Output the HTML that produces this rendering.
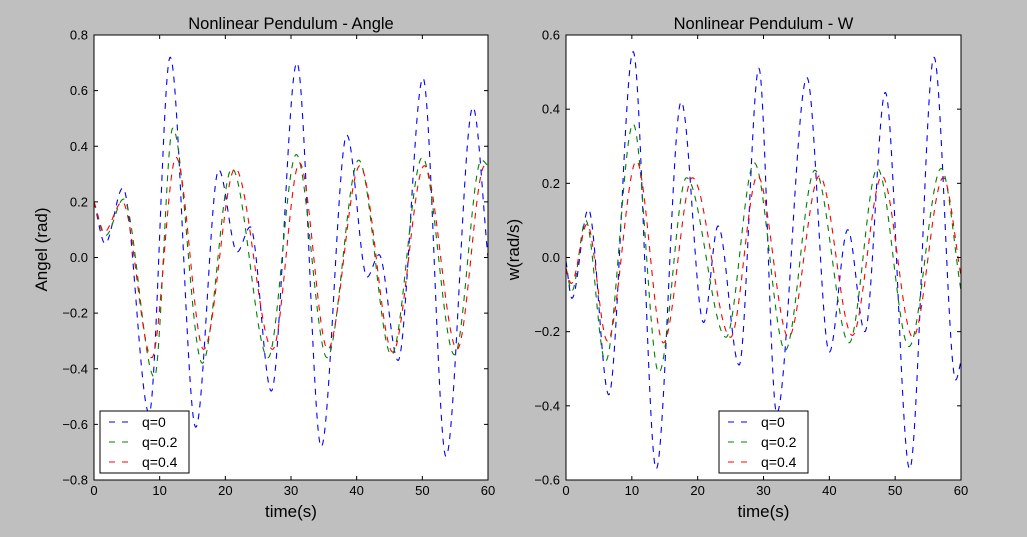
<!DOCTYPE html>
<html><head><meta charset="utf-8"><style>
html,body{margin:0;padding:0;background:#bfbfbf;}
svg{display:block;font-family:"Liberation Sans","DejaVu Sans",sans-serif;}
</style></head><body>
<svg id="chart" width="1027" height="537" viewBox="0 0 1027 537"></svg>
<script>
// ---- Data (extrema: time, value) ----
const angleQ0T=[0,1.7,4.4,8.4,11.6,15.5,19,21.8,23.8,27,30.9,34.6,38.5,41.6,43.4,46.3,50.1,53.6,57.7,60];
const angleQ0V=[0.2,0.05,0.25,-0.56,0.72,-0.61,0.315,0.02,0.11,-0.48,0.70,-0.68,0.44,-0.07,0.01,-0.37,0.645,-0.715,0.54,0.0];
const angleQ2T=[0,1.8,4.5,9.2,12,16.5,21,26.5,30.8,35.5,40.3,45.3,50,54.9,59,60];
const angleQ2V=[0.2,0.08,0.21,-0.43,0.465,-0.38,0.32,-0.36,0.37,-0.36,0.35,-0.35,0.36,-0.35,0.35,0.33];
const angleQ4T=[0,1.5,4.3,8.8,12.5,16.7,21.5,27.2,31.3,35.6,40.5,45.5,50.3,55.3,59.5,60];
const angleQ4V=[0.2,0.09,0.2,-0.36,0.36,-0.33,0.32,-0.33,0.34,-0.33,0.33,-0.34,0.33,-0.33,0.33,0.32];
const wQ0T=[0,0.9,3.4,6.5,10.2,13.7,17.5,20.9,23.1,26.3,29.3,32,36.6,40,42.8,45.4,48.5,52.2,55.9,59.2,60];
const wQ0V=[-0.01,-0.11,0.13,-0.37,0.555,-0.57,0.42,-0.175,0.085,-0.29,0.51,-0.42,0.485,-0.255,0.075,-0.2,0.445,-0.57,0.54,-0.33,-0.28];
const wQ2T=[0,0.9,3.0,6.0,10.2,14.1,18.3,24.3,28.6,33.3,37.8,43,47.3,52.1,57,60];
const wQ2V=[-0.03,-0.09,0.1,-0.28,0.36,-0.31,0.215,-0.215,0.255,-0.25,0.235,-0.23,0.24,-0.24,0.24,-0.09];
const wQ4T=[0,0.8,3.2,6.3,10.7,14.8,19.2,25,29.1,33.8,38.5,43.5,48,52.7,57.3,60];
const wQ4V=[-0.03,-0.07,0.09,-0.225,0.26,-0.23,0.215,-0.215,0.22,-0.215,0.22,-0.21,0.22,-0.215,0.215,-0.05];
const xTicks=[0,10,20,30,40,50,60];
const angleTicks=[-0.8,-0.6,-0.4,-0.2,0.0,0.2,0.4,0.6,0.8];
const wTicks=[-0.6,-0.4,-0.2,0.0,0.2,0.4,0.6];
const legendLabels=["q=0","q=0.2","q=0.4"];
const colors=["#0000ff","#008000","#ff0000"];

const NS="http://www.w3.org/2000/svg";
const svg=document.getElementById('chart');
function mk(tag,attrs,parent){const e=document.createElementNS(NS,tag);for(const k in attrs)e.setAttribute(k,attrs[k]);(parent||svg).appendChild(e);return e;}

function monotone(xs,ys){
  const n=xs.length,d=[],m=new Array(n);
  for(let i=0;i<n-1;i++)d.push((ys[i+1]-ys[i])/(xs[i+1]-xs[i]));
  m[0]=d[0];m[n-1]=d[n-2];
  for(let i=1;i<n-1;i++){m[i]=(d[i-1]*d[i]<=0)?0:(d[i-1]+d[i])/2;}
  for(let i=0;i<n-1;i++){if(d[i]===0){m[i]=0;m[i+1]=0;continue;}const a=m[i]/d[i],b=m[i+1]/d[i],s=a*a+b*b;if(s>9){const t=3/Math.sqrt(s);m[i]=t*a*d[i];m[i+1]=t*b*d[i];}}
  return function(x){let i=0;while(i<n-2&&x>xs[i+1])i++;const h=xs[i+1]-xs[i],t=(x-xs[i])/h,t2=t*t,t3=t2*t;
    return (2*t3-3*t2+1)*ys[i]+(t3-2*t2+t)*h*m[i]+(-2*t3+3*t2)*ys[i+1]+(t3-t2)*h*m[i+1];};
}
function fmt(v){const s=Math.abs(v).toFixed(1);return (v<-1e-9?'\u2212':'')+s;}

function panel(o){
  const {x0,x1,y0,y1,ymin,ymax,yticks,series,title,ylabel,legX,name}=o;
  const g=mk('g',{});
  
  
  const sx=t=>x0+(t/60)*(x1-x0), sy=v=>y1-(v-ymin)/(ymax-ymin)*(y1-y0);
  const bg=mk('rect',{x:x0,y:y0,width:x1-x0,height:y1-y0,fill:'#fff'},g);
  
  
  const clipId=name+'-clip';
  const cp=mk('clipPath',{id:clipId},g);mk('rect',{x:x0,y:y0,width:x1-x0,height:y1-y0},cp);
  series.forEach((s,k)=>{
    const f=monotone(s.t,s.v);let d='';
    for(let i=0;i<=1200;i++){const t=60*i/1200;d+=(i?'L':'M')+sx(t).toFixed(2)+' '+sy(f(t)).toFixed(2);}
    const p=mk('path',{d:d,fill:'none',stroke:colors[k],'stroke-width':1.1,'stroke-dasharray':'6 6','clip-path':'url(#'+clipId+')'},g);
    
    
  });
  const fr=mk('rect',{x:x0,y:y0,width:x1-x0,height:y1-y0,fill:'none',stroke:'#000','stroke-width':1},g);
  
  
  xTicks.forEach(t=>{const x=sx(t);
    mk('line',{x1:x,x2:x,y1:y1,y2:y1-4,stroke:'#000'},g);mk('line',{x1:x,x2:x,y1:y0,y2:y0+4,stroke:'#000'},g);
    const tx=mk('text',{x:x,y:y1+15,'text-anchor':'middle','font-size':13},g);tx.textContent=t;
    
    });
  yticks.forEach(v=>{const y=sy(v);
    mk('line',{x1:x0,x2:x0+4,y1:y,y2:y,stroke:'#000'},g);mk('line',{x1:x1,x2:x1-4,y1:y,y2:y,stroke:'#000'},g);
    const tx=mk('text',{x:x0-6,y:y+4.5,'text-anchor':'end','font-size':13},g);tx.textContent=fmt(v);
    
    });
  const ti=mk('text',{x:(x0+x1)/2,y:y0-6,'text-anchor':'middle','font-size':16.5},g);ti.textContent=title;
  
  
  const xl=mk('text',{x:(x0+x1)/2,y:y1+37,'text-anchor':'middle','font-size':17},g);xl.textContent='time(s)';
  
  
  const yl=mk('text',{x:0,y:0,'text-anchor':'middle','font-size':17,transform:'translate('+(x0-47)+','+((y0+y1)/2-8)+') rotate(-90)'},g);yl.textContent=ylabel;
  
  
  const lg=mk('g',{},g);
  
  
  mk('rect',{x:legX,y:411,width:89,height:62,fill:'#fff',stroke:'#000'},lg);
  legendLabels.forEach((l,k)=>{const y=422+k*20;
    mk('line',{x1:legX+9,x2:legX+34,y1:y,y2:y,stroke:colors[k],'stroke-width':1.1,'stroke-dasharray':'6 7'},lg);
    const tx=mk('text',{x:legX+42,y:y+5,'font-size':14},lg);tx.textContent=l;
    
    });
}
panel({name:'angle-panel',x0:94,x1:488,y0:35,y1:480,ymin:-0.8,ymax:0.8,yticks:angleTicks,title:'Nonlinear Pendulum - Angle',ylabel:'Angel (rad)',legX:100,
  series:[{t:angleQ0T,v:angleQ0V},{t:angleQ2T,v:angleQ2V},{t:angleQ4T,v:angleQ4V}]});
panel({name:'w-panel',x0:566,x1:961,y0:35,y1:480,ymin:-0.6,ymax:0.6,yticks:wTicks,title:'Nonlinear Pendulum - W',ylabel:'w(rad/s)',legX:719,
  series:[{t:wQ0T,v:wQ0V},{t:wQ2T,v:wQ2V},{t:wQ4T,v:wQ4V}]});
</script>
</body></html>
